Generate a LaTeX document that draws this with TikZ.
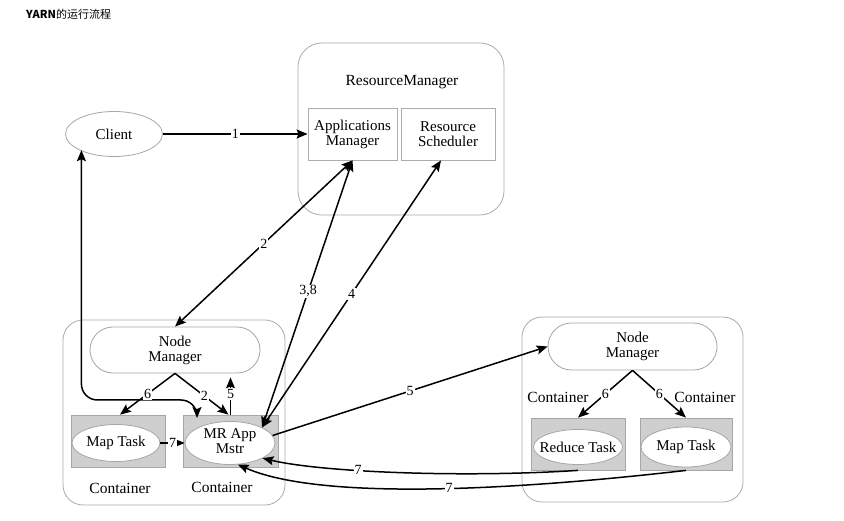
\documentclass[tikz,border=0pt]{standalone}
\usepackage{fontspec}
\setmainfont{Liberation Serif}
\newfontfamily\cjk{Noto Sans CJK SC}
\usetikzlibrary{arrows.meta,shapes.geometric,shapes.misc,calc}
\newcommand{\zw}[1]{\makebox[0pt]{#1}}
\begin{document}
\begin{tikzpicture}[x=1pt,y=-1pt,
  bigbox/.style={draw=gray!65, line width=0.8pt, rounded corners=24pt, inner sep=0pt},
  inbox/.style={draw=gray!65, line width=0.8pt, fill=white, align=center, inner sep=0pt, font=\fontsize{15}{15}\selectfont},
  graybox/.style={draw=gray!70, line width=0.8pt, fill=gray!38, inner sep=0pt},
  ell/.style={ellipse, draw=gray!70, line width=0.8pt, fill=white, inner sep=0pt, align=center, font=\fontsize{15}{15}\selectfont},
  nmgr/.style={rounded rectangle, draw=gray!70, line width=0.8pt, fill=white, inner sep=0pt, align=center, font=\fontsize{15}{15}\selectfont},
  txt/.style={inner sep=0pt, font=\fontsize{15.5}{16}\selectfont},
  lbl/.style={fill=white, inner sep=1pt, font=\fontsize{14}{14}\selectfont},
  con/.style={line width=1.5pt, -{Stealth[length=11pt,width=9pt,inset=2pt]}},
  con2/.style={line width=1.5pt, {Stealth[length=11pt,width=9pt,inset=2pt]}-{Stealth[length=11pt,width=9pt,inset=2pt]}}
]
\useasboundingbox (0,0) rectangle (844,521);
\fill[white] (0,0) rectangle (844,521);

% title
\node[anchor=west, inner sep=0pt, font=\cjk\fontsize{11}{12}\selectfont] (title) at (26,14) {\textbf{YARN}的运行流程};

% Resource manager
\node[bigbox, minimum width=206pt, minimum height=172pt] (rm) at (401,129) {};
\node[txt] (rmt) at (402,82) {ResourceManager};
\node[inbox, minimum width=89pt, minimum height=52pt] (am) at (352.5,134) {Applications\\Manager};
\node[inbox, minimum width=94pt, minimum height=52pt] (rs) at (448,134) {Resource\\Scheduler};

% client
\node[ell, minimum width=97pt, minimum height=45pt] (client) at (114,134) {Client};

% left node
\node[bigbox, minimum width=222pt, minimum height=185pt, rounded corners=20pt] (ln) at (174,412.5) {};
\node[nmgr, minimum width=170pt, minimum height=46pt] (lnm) at (175,350) {Node\\Manager};
\node[graybox, minimum width=94pt, minimum height=52pt] (mtc) at (118,441) {};
\node[ell, minimum width=88pt, minimum height=37pt] (mt) at (116,443) {\zw{Map Task}};
\node[graybox, minimum width=95pt, minimum height=52pt] (mrc) at (230.5,441) {};
\node[ell, minimum width=90pt, minimum height=43pt] (mr) at (230,443) {\zw{\begin{tabular}{@{}c@{}}MR App\\Mstr\end{tabular}}};
\node[txt] (lc1) at (120,488) {Container};
\node[txt] (lc2) at (222,487) {Container};

% right node
\node[bigbox, minimum width=221pt, minimum height=185pt, rounded corners=20pt] (rn) at (632.5,409.5) {};
\node[nmgr, minimum width=169pt, minimum height=47pt] (rnm) at (632.5,346.5) {Node\\Manager};
\node[graybox, minimum width=94pt, minimum height=52pt] (rc) at (578,444) {};
\node[ell, minimum width=89pt, minimum height=35pt] (rt) at (578,447) {\zw{Reduce Task}};
\node[graybox, minimum width=92pt, minimum height=52pt] (rmc) at (686,444) {};
\node[ell, minimum width=90pt, minimum height=40pt] (rmt) at (686,447) {\zw{Map Task}};
\node[txt] (rc1) at (558,397) {Container};
\node[txt] (rc2) at (705,397) {Container};

% connectors
\draw[con] (client.east) -- node[lbl]{1} (am.west);
\draw[con2] (lnm.north) -- node[lbl]{2} (am.south);
\draw[con2] (mr.north east) -- node[lbl, pos=0.51]{3,8} (am.south);
\draw[con2] (mr.north east) -- node[lbl, pos=0.5]{4} ([xshift=-7pt]rs.south);
\draw[con] (mr.10) -- node[lbl]{5} (rnm.west);

\coordinate (cm) at (197,418);
\draw[con2, rounded corners=16pt] ([xshift=2pt]client.south west) |- ([yshift=18pt]cm) -- (cm);

\draw[con] (lnm.south) -- node[lbl, pos=0.5]{6} ([xshift=2pt]mtc.north);
\draw[con] (lnm.south) -- node[lbl, pos=0.55]{2} ([xshift=-2pt]mrc.north);
\draw[con, shorten >=4pt] (mrc.north) -- node[lbl]{5} (mrc.north |- lnm.south);
\draw[con] (mt.east) -- node[lbl]{7} (mr.west);

\draw[con] (rnm.south) -- node[lbl, pos=0.5]{6} (rc.north);
\draw[con] (rnm.south) -- node[lbl, pos=0.5]{6} (rmc.north);

\draw[con] (rc.south) .. controls (460,478) and (320,472) .. node[lbl, pos=0.62]{7} (mr.-25);
\draw[con] (rmc.south) .. controls (560,485) and (330,505) .. node[lbl, pos=0.5]{7} (mr.-70);
\end{tikzpicture}
\end{document}
